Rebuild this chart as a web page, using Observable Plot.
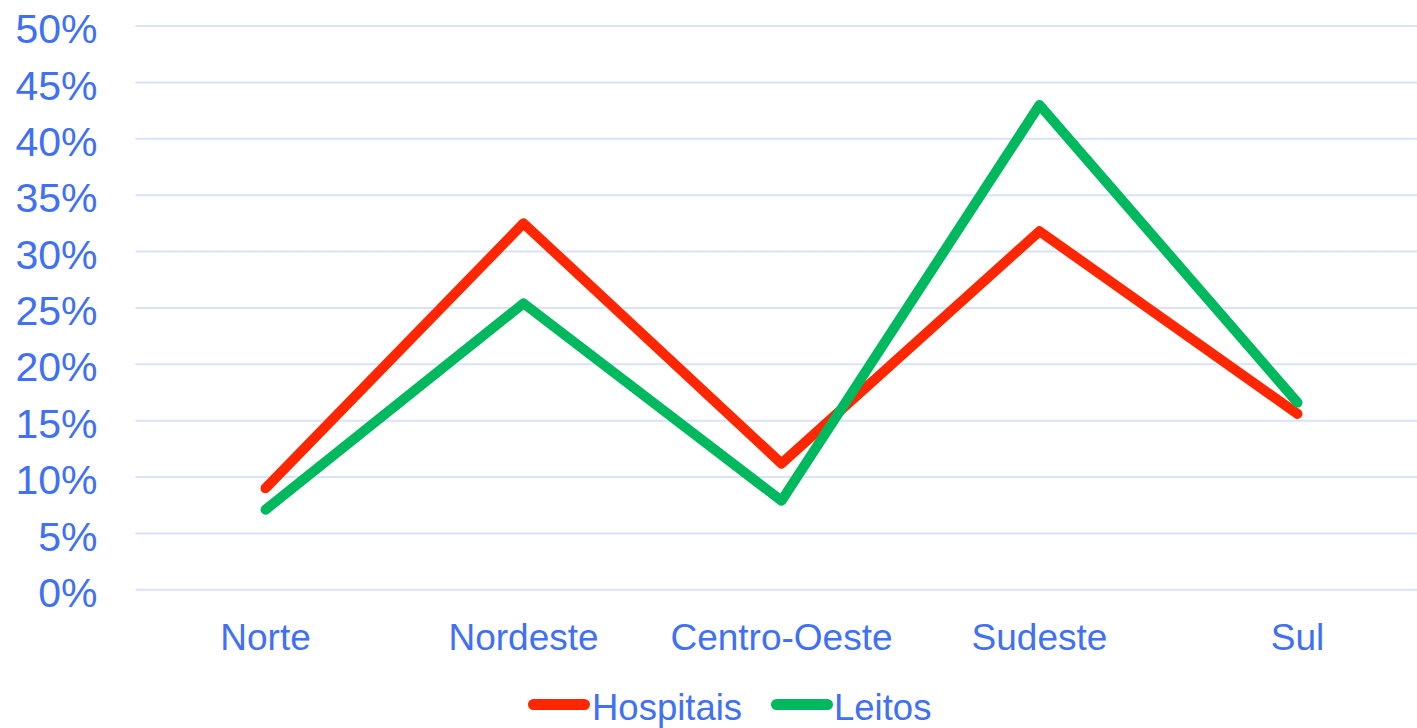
<!DOCTYPE html>
<html>
<head>
<meta charset="utf-8">
<script src="https://cdn.jsdelivr.net/npm/d3@7"></script>
<script src="https://cdn.jsdelivr.net/npm/@observablehq/plot@0.6"></script>
<style>
  html, body { margin: 0; padding: 0; background: #fff; overflow: hidden; width: 1417px; height: 728px; }
  #chart svg { display: block; }
  #legend { position: relative; height: 58px; font-family: "Liberation Sans", Arial, sans-serif; color: #4070F5; font-size: 36.5px; }
  #legend .sw { position: absolute; top: 29px; width: 62px; height: 11px; border-radius: 6px; }
  #legend .lb { position: absolute; top: 17px; line-height: normal; white-space: nowrap; }
</style>
</head>
<body>
<div id="chart"></div>
<div id="legend"></div>
<script>
const regions = ["Norte", "Nordeste", "Centro-Oeste", "Sudeste", "Sul"];
const hospitais = [9.0, 32.5, 11.2, 31.8, 15.6];
const leitos = [7.1, 25.4, 7.9, 43.0, 16.6];
const seriesNames = ["Hospitais", "Leitos"];
const seriesColors = ["#FF2600", "#00B95F"];
const yTicks = [0, 5, 10, 15, 20, 25, 30, 35, 40, 45, 50];

const data = [];
[hospitais, leitos].forEach((vals, i) => {
  regions.forEach((r, j) => data.push({series: seriesNames[i], region: r, value: vals[j]}));
});

const blue = "#4070F5";
const font = "'Liberation Sans', Arial, sans-serif";

const chart = Plot.plot({
  width: 1417,
  height: 670,
  marginLeft: 135.5,
  marginRight: 0,
  marginTop: 25.5,
  marginBottom: 80.7,
  style: {fontFamily: font, background: "#fff", overflow: "visible"},
  x: {type: "point", domain: regions, range: [135.5, 1426], padding: 0.5, label: null},
  y: {domain: [0, 50], label: null},
  color: {domain: seriesNames, range: seriesColors},
  marks: [
    Plot.ruleY(yTicks, {stroke: "#D9E2F7", strokeWidth: 2}),
    Plot.axisY({ticks: yTicks, tickFormat: d => d + "%", tickSize: 0, tickPadding: 38.5, fontSize: 41, color: blue, label: null, dy: 4}),
    Plot.axisX({tickSize: 0, tickPadding: 33.7, fontSize: 37, color: blue, label: null}),
    Plot.line(data, {x: "region", y: "value", z: "series", stroke: "series", strokeWidth: 10, strokeLinecap: "round", strokeLinejoin: "round"})
  ]
});
document.getElementById("chart").appendChild(chart);

const legend = document.getElementById("legend");
const pos = [{sw: 528, lb: 592}, {sw: 771, lb: 834}];
seriesNames.forEach((name, i) => {
  const s = document.createElement("div");
  s.className = "sw";
  s.style.left = pos[i].sw + "px";
  s.style.background = seriesColors[i];
  legend.appendChild(s);
  const t = document.createElement("div");
  t.className = "lb";
  t.style.left = pos[i].lb + "px";
  t.textContent = name;
  legend.appendChild(t);
});
</script>
</body>
</html>
